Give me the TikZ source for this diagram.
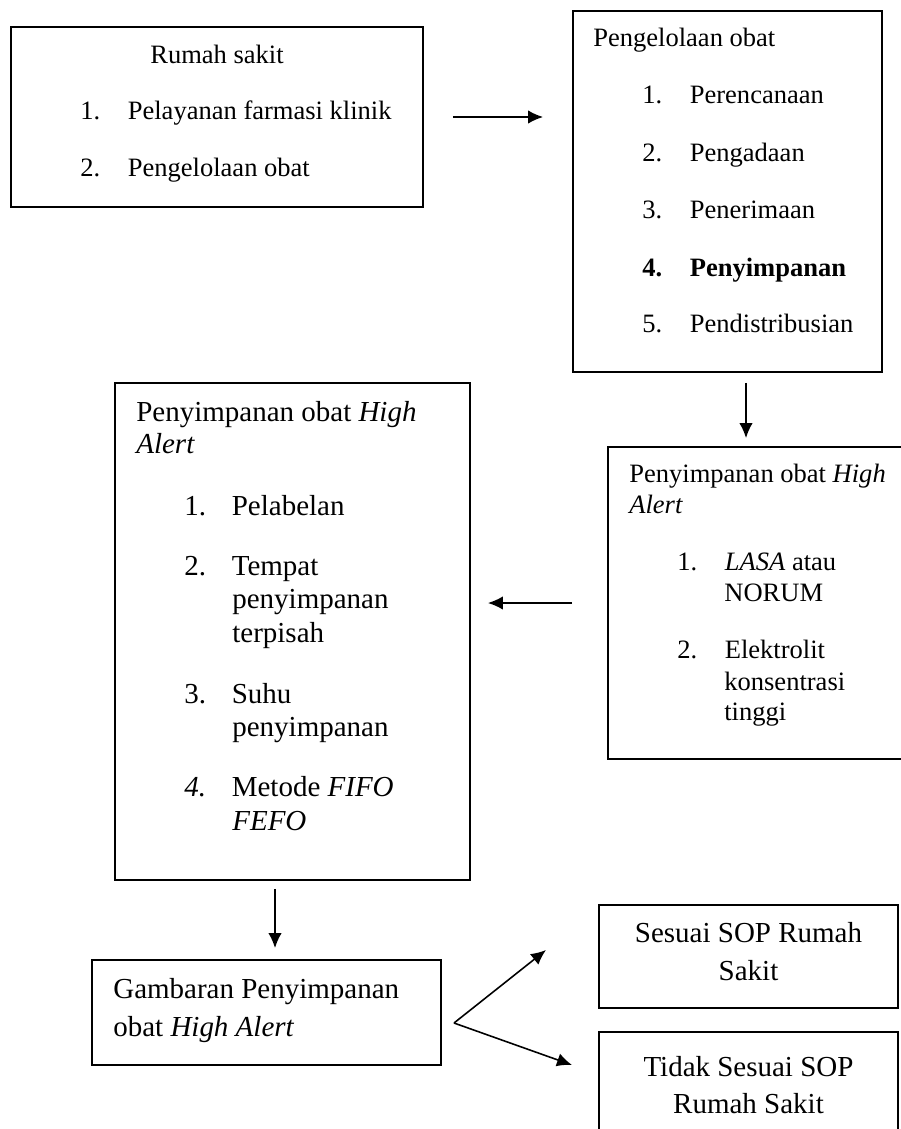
\documentclass[tikz,border=0pt]{standalone}
\usepackage{fontspec}
\setmainfont{Liberation Serif}
\usetikzlibrary{arrows.meta}
\tikzset{>={Latex[length=0.3cm,width=0.27cm]}}
\tikzset{
  box/.style = {draw, line width=1.1pt, inner sep=0pt, outer sep=0pt},
  txt/.style = {anchor=base west, inner sep=0pt, font=\fontsize{15.1}{18}\selectfont},
  txtb/.style = {anchor=base west, inner sep=0pt, font=\fontsize{16.5}{20}\selectfont},
  txtc/.style = {anchor=base, inner sep=0pt, font=\fontsize{16.5}{20}\selectfont},
  arr/.style = {->, line width=0.9pt}
}
\newcommand{\itm}[2]{\makebox[0.95cm][l]{#1}#2}

\begin{document}
\begin{tikzpicture}[x=0.02cm,y=-0.02cm]
  \clip (0,0) rectangle (901,1129);
  \node[box, minimum width=8.24cm, minimum height=3.6cm] (rs) at (217,117) {};
  \node[box, minimum width=6.18cm, minimum height=7.22cm] (po) at (727.5,191.5) {};
  \node[box, minimum width=6.44cm, minimum height=6.24cm] (hak) at (769,603) {};
  \node[box, minimum width=7.1cm, minimum height=9.94cm] (hal) at (292.5,631.5) {};
  \node[box, minimum width=6.98cm, minimum height=2.1cm] (gb) at (266.5,1012.5) {};
  \node[box, minimum width=5.98cm, minimum height=2.06cm] (ss) at (748.5,956.5) {};
  \node[box, minimum width=5.98cm, minimum height=2.56cm] (ts) at (748.5,1096) {};

  \node[txt] (rs-t) at (150,63.3) {Rumah sakit};
  \node[txt] (rs-1) at (80,119.3) {\itm{1.}{Pelayanan farmasi klinik}};
  \node[txt] (rs-2) at (80,176) {\itm{2.}{Pengelolaan obat}};

  \node[txt] (po-t) at (593,46) {Pengelolaan obat};
  \node[txt] (po-1) at (642,103.3) {\itm{1.}{Perencanaan}};
  \node[txt] (po-2) at (642,161) {\itm{2.}{Pengadaan}};
  \node[txt] (po-3) at (642,218.3) {\itm{3.}{Penerimaan}};
  \node[txt] (po-4) at (642,276) {\bfseries\itm{4.}{Penyimpanan}};
  \node[txt] (po-5) at (642,332.7) {\itm{5.}{Pendistribusian}};

  \node[txt] (hak-t) at (629,482.5) {Penyimpanan obat \textit{High}};
  \node[txt] (hak-t2) at (629,513.1) {\textit{Alert}};
  \node[txt] (hak-1) at (677,570.6) {\itm{1.}{\textit{LASA} atau}};
  \node[txt] (hak-1b) at (724,601.3) {NORUM};
  \node[txt] (hak-2) at (677,658.7) {\itm{2.}{Elektrolit}};
  \node[txt] (hak-2b) at (724,690.1) {konsentrasi};
  \node[txt] (hak-2c) at (724,720.8) {tinggi};

  \node[txtb] (hal-t) at (136,421.2) {Penyimpanan obat \textit{High}};
  \node[txtb] (hal-t2) at (136,453.4) {\textit{Alert}};
  \node[txtb] (hal-1) at (184,515) {\itm{1.}{Pelabelan}};
  \node[txtb] (hal-2) at (184,575.2) {\itm{2.}{Tempat}};
  \node[txtb] (hal-2b) at (232,608.9) {penyimpanan};
  \node[txtb] (hal-2c) at (232,642.3) {terpisah};
  \node[txtb] (hal-3) at (184,703.6) {\itm{3.}{Suhu}};
  \node[txtb] (hal-3b) at (232,736.9) {penyimpanan};
  \node[txtb] (hal-4) at (184,796.7) {\itm{\textit{4.}}{Metode \textit{FIFO}}};
  \node[txtb] (hal-4b) at (232,830) {\textit{FEFO}};

  \node[txtb] (gb-1) at (113,998.3) {Gambaran Penyimpanan};
  \node[txtb] (gb-2) at (113,1036.7) {obat \textit{High Alert}};
  \node[txtc] (ss-1) at (748.5,942.7) {Sesuai SOP Rumah};
  \node[txtc] (ss-2) at (748.5,980) {Sakit};
  \node[txtc] (ts-1) at (748.5,1076.7) {Tidak Sesuai SOP};
  \node[txtc] (ts-2) at (748.5,1113.3) {Rumah Sakit};

  \coordinate (p2) at ([xshift=0.37cm]po.south);
  \coordinate (p3) at ([xshift=-0.35cm]hal.south);
  \coordinate (fork) at (454,1023);
  \coordinate (up) at (546,950);
  \coordinate (dn) at (572,1065);

  \draw[arr, shorten <=0.6cm, shorten >=0.6cm] (rs.east) -- (rs.east -| po.west);
  \draw[arr, shorten <=0.22cm, shorten >=0.18cm] (p2) -- (p2 |- hak.north);
  \draw[arr, shorten <=0.72cm, shorten >=0.36cm] (hak.west) -- (hak.west -| hal.east);
  \draw[arr, shorten <=0.18cm, shorten >=0.24cm] (p3) -- (p3 |- gb.north);
  \draw[arr] (fork) -- (up);
  \draw[arr] (fork) -- (dn);
\end{tikzpicture}
\end{document}
